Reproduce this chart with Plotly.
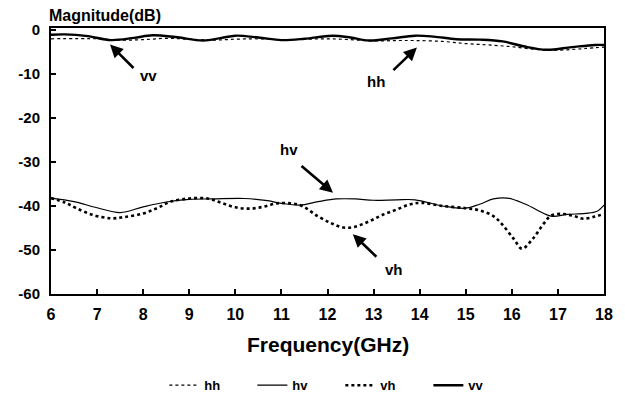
import plotly.graph_objects as go

# ---- data ----
hh_f = [6.0, 7.0, 7.5, 8.0, 8.5, 9.0, 9.5, 10.0, 10.5, 11.0, 11.5, 12.0, 12.5, 13.0,
        13.5, 13.9, 14.5, 15.0, 15.5, 16.0, 16.5, 16.8, 17.2, 17.6, 18.0]
hh_db = [-2.0, -2.0, -2.3, -2.2, -1.9, -2.1, -2.3, -2.1, -2.0, -2.2, -2.1, -2.0, -2.2, -2.5,
         -2.4, -2.4, -2.6, -3.1, -3.4, -3.8, -4.4, -4.6, -4.5, -4.2, -3.9]

hv_f = [6.0, 6.5, 7.0, 7.5, 8.0, 8.5, 9.0, 9.5, 10.2, 10.7, 11.0, 11.4, 11.8, 12.2, 12.6,
        13.0, 13.5, 13.9, 14.5, 15.0, 15.3, 15.6, 15.9, 16.3, 16.85, 17.2, 17.6, 17.85, 18.0]
hv_db = [-38.2, -39.0, -40.4, -41.5, -40.2, -39.1, -38.5, -38.4, -38.3, -38.8, -39.4, -39.8,
         -39.0, -38.4, -38.4, -38.7, -38.6, -38.6, -40.0, -40.5, -39.6, -38.4, -38.2, -39.6,
         -42.3, -41.9, -41.7, -41.2, -39.8]

vh_f = [6.0, 6.3, 6.55, 6.9, 7.3, 7.6, 8.0, 8.3, 8.6, 9.0, 9.4, 9.7, 10.0, 10.3, 10.6, 10.9,
        11.2, 11.45, 11.8, 12.1, 12.35, 12.6, 12.9, 13.2, 13.5, 13.8, 14.05, 14.5, 15.0,
        15.3, 15.6, 15.8, 16.05, 16.22, 16.45, 16.7, 16.85, 17.1, 17.35, 17.55, 17.8, 18.0]
vh_db = [-38.2, -39.2, -40.5, -42.0, -42.8, -42.5, -41.7, -40.5, -39.0, -38.3, -38.3, -39.3,
         -40.3, -40.6, -40.2, -39.4, -39.4, -40.0, -42.4, -44.0, -44.9, -44.7, -43.5, -42.0,
         -40.8, -39.6, -39.3, -40.0, -40.5, -41.0, -42.3, -44.3, -47.6, -49.7, -47.5, -43.9,
         -42.2, -41.8, -42.3, -42.9, -42.4, -41.8]

vv_f = [6.0, 6.3, 6.8, 7.3, 7.8, 8.2, 8.7, 9.3, 9.7, 10.0, 10.5, 11.0, 11.5, 12.1, 12.5,
        12.9, 13.4, 13.9, 14.3, 14.8, 15.3, 15.8, 16.25, 16.75, 17.3, 17.8, 18.0]
vv_db = [-1.1, -1.0, -1.4, -2.3, -1.8, -1.2, -1.6, -2.4, -1.8, -1.3, -1.7, -2.3, -2.0, -1.3,
         -1.7, -2.4, -1.9, -1.3, -1.5, -2.1, -2.2, -2.6, -3.7, -4.5, -3.9, -3.4, -3.4]

x_ticks = [6, 7, 8, 9, 10, 11, 12, 13, 14, 15, 16, 17, 18]
y_ticks = [0, -10, -20, -30, -40, -50, -60]
y_ticktext = ["0", "-10", "-20", "-30", "-40", "-50", "-60"]

FONT = "Liberation Sans, Arial, sans-serif"

fig = go.Figure()
fig.add_trace(go.Scatter(x=hh_f, y=hh_db, name="<b>hh</b>", mode="lines",
                         line=dict(color="black", width=1.2, dash="dot", shape="spline")))
fig.add_trace(go.Scatter(x=hv_f, y=hv_db, name="<b>hv</b>", mode="lines",
                         line=dict(color="black", width=1.2, shape="spline")))
fig.add_trace(go.Scatter(x=vh_f, y=vh_db, name="<b>vh</b>", mode="lines",
                         line=dict(color="black", width=2.6, dash="dot", shape="spline")))
fig.add_trace(go.Scatter(x=vv_f, y=vv_db, name="<b>vv</b>", mode="lines",
                         line=dict(color="black", width=2.4, shape="spline")))

fig.update_layout(
    width=625, height=412,
    margin=dict(l=51, r=12, t=28, b=113),
    plot_bgcolor="white", paper_bgcolor="white",
    font=dict(family=FONT, color="black"),
    showlegend=True,
    legend=dict(orientation="h", x=0.205, y=-0.343, xanchor="left", yanchor="middle",
                font=dict(family=FONT, size=13),
                entrywidth=43, entrywidthmode="pixels", bgcolor="rgba(0,0,0,0)"),
)
fig.update_xaxes(range=[6, 18], tickvals=x_ticks, ticktext=[f"<b>{v}</b>" for v in x_ticks],
                 ticks="inside", ticklen=5, tickwidth=1.5,
                 tickcolor="black", showline=True, linecolor="black", linewidth=1.8,
                 mirror=True, showgrid=False, zeroline=False, ticklabelstandoff=5,
                 ticklabeloverflow="allow",
                 tickfont=dict(family=FONT, size=16))
fig.update_yaxes(range=[-60, 0.45], tickvals=y_ticks,
                 ticktext=[f"<b>{t}</b>" for t in y_ticktext], ticks="inside",
                 ticklen=5, tickwidth=1.5, tickcolor="black", showline=True,
                 linecolor="black", linewidth=2, mirror=True, showgrid=False,
                 zeroline=False, ticklabelstandoff=6,
                 tickfont=dict(family=FONT, size=15))

anns = [
    dict(text="<b>Magnitude(dB)</b>", xref="paper", yref="paper", x=-0.007, y=1.048,
         xanchor="left", yanchor="middle", showarrow=False,
         font=dict(family=FONT, size=16)),
    dict(text="<b>Frequency(GHz)</b>", xref="paper", yref="paper", x=0.5, y=-0.188,
         xanchor="center", yanchor="middle", showarrow=False,
         font=dict(family=FONT, size=21)),
]
labels = [("vv", 8.12, -10.3), ("hh", 13.06, -11.8), ("hv", 11.16, -27.2), ("vh", 13.44, -54.5)]
for t, fx, fy in labels:
    anns.append(dict(text=f"<b>{t}</b>", x=fx, y=fy, xref="x", yref="y", showarrow=False,
                     font=dict(family=FONT, size=15)))
arrows = [(7.28, -3.3, 25, 25), (13.94, -4.0, -25, 24), (12.12, -37.0, -33, -28),
          (12.55, -46.4, 25, 24)]
for hx, hy, ax, ay in arrows:
    anns.append(dict(text="", x=hx, y=hy, xref="x", yref="y", ax=ax, ay=ay,
                     showarrow=True, arrowhead=2, arrowsize=1, arrowwidth=2.6,
                     arrowcolor="black", standoff=0, startstandoff=0))
fig.update_layout(annotations=anns)

fig.write_html("out.html", config={"displayModeBar": False},
               post_script="document.body.style.margin='0';document.body.style.overflow='hidden';")
